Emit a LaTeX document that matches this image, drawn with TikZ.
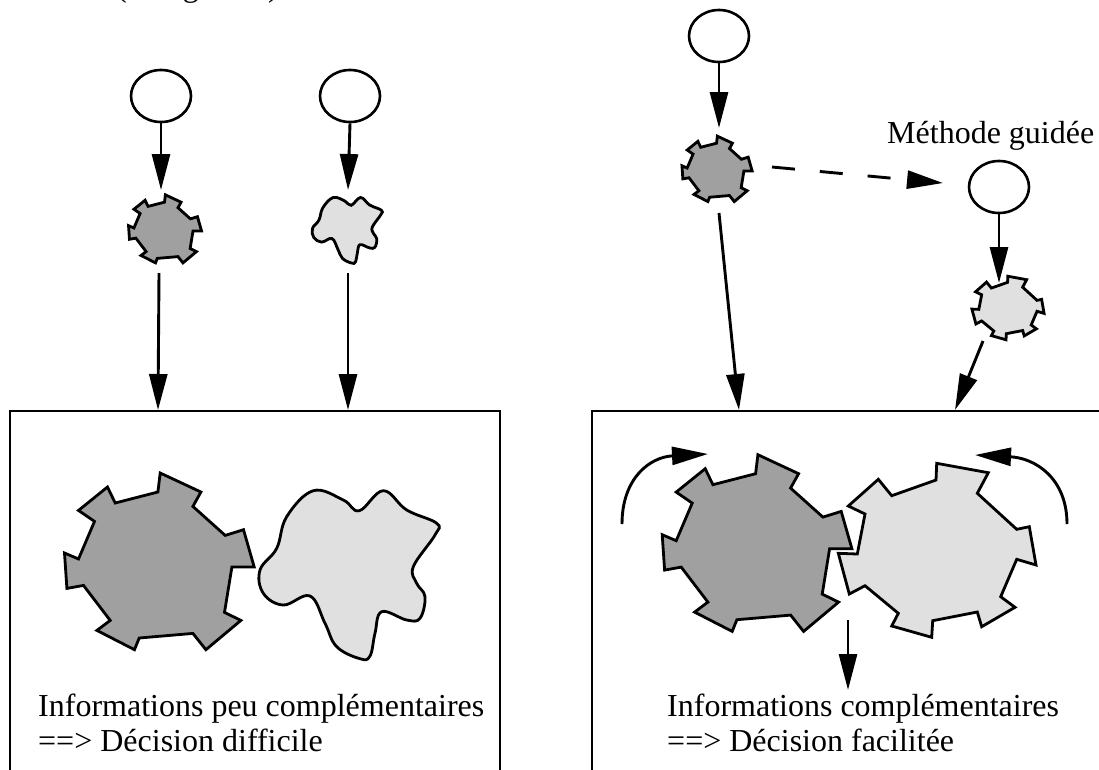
\documentclass[tikz,border=0pt]{standalone}
\usepackage{fontspec}
\setmainfont{Liberation Serif}
\usetikzlibrary{arrows.meta,shapes.geometric}
\definecolor{gdark}{HTML}{A0A0A0}
\definecolor{glight}{HTML}{E0E0E0}
\tikzset{
  shapeline/.style={draw=black, line width=2.8pt, line join=miter},
  oval/.style={draw, ellipse, line width=2.6pt, minimum width=60pt, minimum height=52pt, inner sep=0pt},
  arr/.style={line width=2.9pt, -{Triangle[length=36pt,width=18pt]}},
  dasharr/.style={arr, dash pattern=on 23pt off 25pt},
  boxline/.style={line width=2.6pt},
  lbl/.style={anchor=base west, inner sep=0pt, font=\fontsize{32}{35}\selectfont},
  geara/.pic={\draw[shapeline, fill=gdark] (1,-88.7) -- (41.7,-69.7) -- (33.7,-55.3) -- (66,-26.3) -- (84.3,-32) -- (95,5.3) -- (72.7,5.3) -- (65.3,50.7) -- (81.7,58.7) -- (46.7,88) -- (33.7,71.7) -- (-20,76.3) -- (-24.7,88) -- (-62.3,68.7) -- (-49,58.7) -- (-75.7,23.7) -- (-92.3,26.7) -- (-94.7,-8.7) -- (-80.7,-2.7) -- (-64.7,-40.3) -- (-80.7,-51.3) -- (-51.7,-74.7) -- (-44,-58.7) -- (-1.3,-69.7) -- cycle;},
  gearb/.pic={\draw[shapeline, fill=glight] (-0.5,-87) -- (51.1,-77.6) -- (40.1,-57) -- (79.5,-21) -- (92.1,-23.6) -- (98.8,14.7) -- (79.5,9) -- (63.5,46.4) -- (77.8,57) -- (44.5,76.4) -- (40.1,61.7) -- (-4.5,70.4) -- (-5.5,87) -- (-45.5,75.7) -- (-38.9,63) -- (-72.2,35.4) -- (-87.9,43.7) -- (-98.9,3) -- (-79.9,3.7) -- (-72.2,-36.3) -- (-88.9,-44.3) -- (-58.9,-71) -- (-45.5,-54.6) -- (-1.2,-70.3) -- cycle;},
  blob/.pic={\draw[shapeline, fill=glight] plot[smooth cycle, tension=0.65] coordinates {(10.8,-63.3) (34.8,-83.3) (58.2,-64) (88.2,-50.7) (86.5,-39) (64.8,-7.3) (68.2,9.3) (76.5,22.7) (71.5,44.3) (58.2,46) (33.2,37.7) (26.5,59.3) (21.5,82) (11.5,84.7) (-11.8,72.7) (-23.5,49.3) (-38.5,22) (-65.2,31) (-85.2,19.3) (-88.5,-4) (-71.8,-25.7) (-61.8,-57.3) (-35.2,-83.3) (-5.2,-74)};}
}
\begin{document}
\begin{tikzpicture}[x=1pt,y=-1pt]
\useasboundingbox (0,0) rectangle (1099,769);
\clip (0,0) rectangle (1099,769);
\fill[white] (0,0) rectangle (1099,769);

% cut-off title at top left (as in the reference)
\node[lbl] (title) at (116,-4) {(non guidée)};

% ---------- left part ----------
\node[oval] (e1) at (161,96) {};
\node[oval] (e2) at (350,96) {};
\coordinate (g1in) at (161,190);
\coordinate (b1in) at (348,190);
\pic[scale=0.385] at (165,229) {geara};
\pic[scale=0.39] at (347,230) {blob};
\draw[arr] (e1.south) -- (g1in);
\draw[arr] (e2.south) -- (b1in);
\coordinate (g1out) at (159,273);
\coordinate (b1out) at (348,273);
\coordinate (box1a) at (158,410);
\coordinate (box1b) at (348,410);
\draw[arr] (g1out) -- (box1a);
\draw[arr] (b1out) -- (box1b);

\draw[boxline] (10,800) -- (10,411) -- (500,411) -- (500,800);
\pic at (159.2,561.7) {geara};
\pic at (348.5,574) {blob};
\node[lbl] (t1) at (38,716) {Informations peu complémentaires};
\node[lbl] (t2) at (38,751) {==> Décision difficile};

% ---------- right part ----------
\node[oval] (e3) at (719,36) {};
\coordinate (g2in) at (719,128);
\pic[scale=0.37] at (717,169) {geara};
\draw[arr] (e3.south) -- (g2in);
\node[lbl] (meth) at (887,143) {Méthode guidée};
\node[oval] (e4) at (999,187) {};
\coordinate (g2side) at (772,167);
\coordinate (e4near) at (943,183);
\draw[dasharr] (g2side) -- (e4near);
\coordinate (g3in) at (999,283);
\pic[scale=0.365] at (1008,308) {gearb};
\draw[arr] (e4.south) -- (g3in);
\coordinate (g2out) at (719,213);
\coordinate (g3out) at (983,341);
\coordinate (box2a) at (739,410);
\coordinate (box2b) at (955,410);
\draw[arr] (g2out) -- (box2a);
\draw[arr] (g3out) -- (box2b);

\draw[boxline] (592,800) -- (592,411) -- (1110,411);
\pic at (756.9,543.4) {geara};
\pic at (937.2,550.3) {gearb};
\coordinate (rotLs) at (622,524);
\coordinate (rotLe) at (708,454);
\coordinate (rotRs) at (1067,524);
\coordinate (rotRe) at (975,455);
\draw[arr] (rotLs) .. controls (622,478) and (650,457) .. (rotLe);
\draw[arr] (rotRs) .. controls (1067,478) and (1035,458) .. (rotRe);
\coordinate (dA) at (848,620);
\coordinate (dB) at (848,690);
\draw[arr] (dA) -- (dB);
\node[lbl] (t3) at (667,716) {Informations complémentaires};
\node[lbl] (t4) at (667,751) {==> Décision facilitée};
\end{tikzpicture}
\end{document}
